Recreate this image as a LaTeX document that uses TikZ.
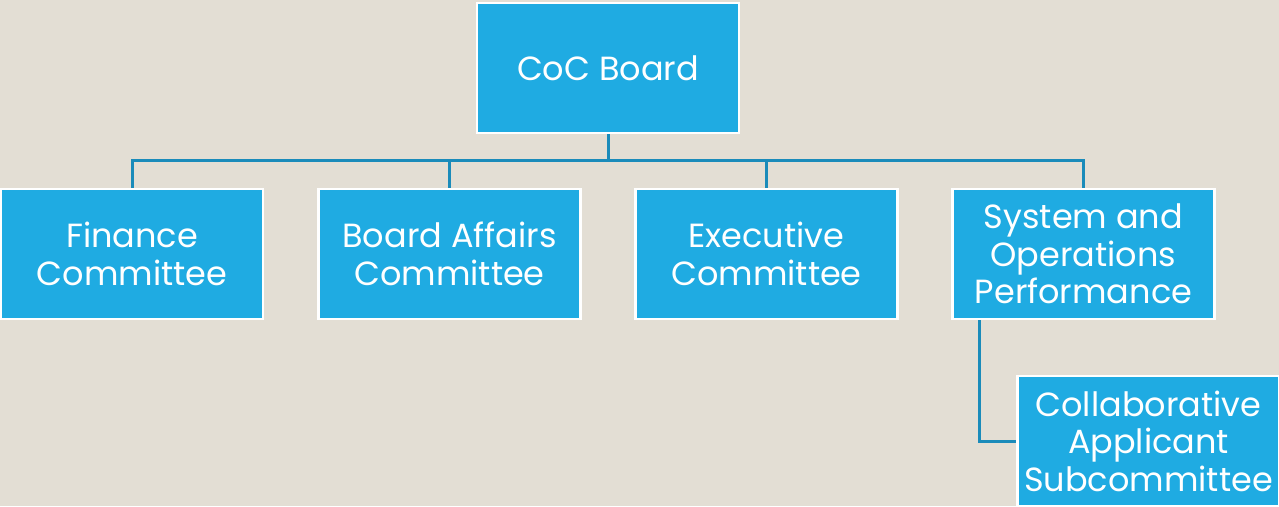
\documentclass[tikz,border=0pt]{standalone}
\usepackage{fontspec}
\setmainfont{Poppins}
\definecolor{bg}{HTML}{E3DED4}
\definecolor{boxfill}{HTML}{1FABE2}
\definecolor{linecol}{HTML}{1A8BBA}
\begin{document}
\begin{tikzpicture}[x=1pt,y=-1pt,
  orgbox/.style={draw=white,line width=2.5pt,fill=boxfill,text=white,inner sep=0pt,
    align=center,font=\fontsize{33.5}{37.5}\selectfont},
  conn/.style={draw=linecol,line width=3pt}]
\useasboundingbox[fill=bg] (0,0) rectangle (1279,506);
\coordinate (bus) at (608,160);
\node[orgbox,minimum width=262pt,minimum height=130pt] (fin) at (132,254) {Finance\\Committee};
\node[orgbox,minimum width=262pt,minimum height=130pt] (aff) at (449.5,254) {Board Affairs\\Committee};
\node[orgbox,minimum width=262pt,minimum height=130pt] (exe) at (766.5,254) {Executive\\Committee};
\node[orgbox,minimum width=262pt,minimum height=130pt] (sys) at (1083.5,254) {System and\\Operations\\Performance};
\node[orgbox,minimum width=262pt,minimum height=130pt] (col) at (1148.5,441) {Collaborative\\Applicant\\Subcommittee};
\node[orgbox,minimum width=262pt,minimum height=130pt] (board) at (608,68) {CoC Board};
\draw[conn] (board.south) -- (bus);
\draw[conn] (fin.north) |- (bus) -| (sys.north);
\draw[conn] (aff.north) -- (aff.north |- bus);
\draw[conn] (exe.north) -- (exe.north |- bus);
\draw[conn] (sys.south -| 979,0) |- (col.west);
\end{tikzpicture}
\end{document}
